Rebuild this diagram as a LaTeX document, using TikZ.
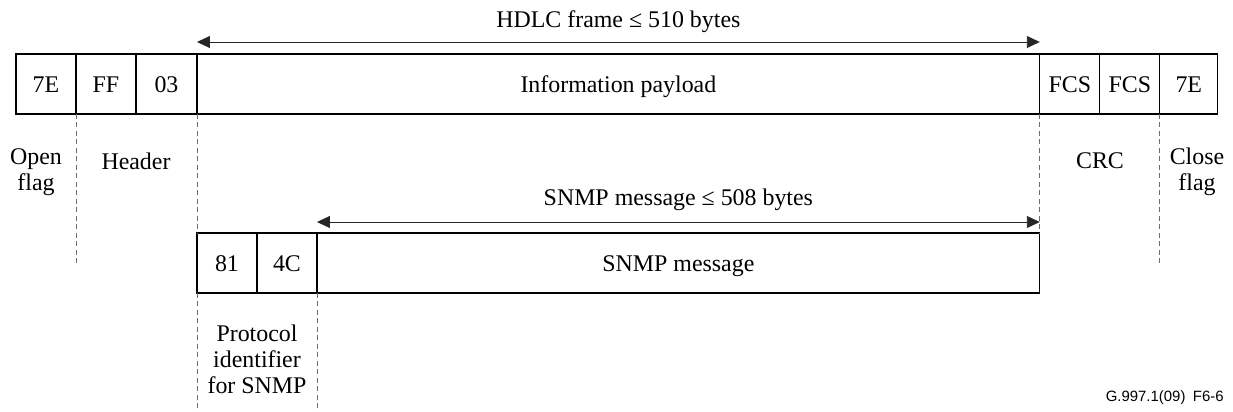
\documentclass[tikz,border=0pt]{standalone}
\usepackage{fontspec}
\setmainfont{Liberation Serif}
\newfontfamily\figsans{Liberation Sans}
\usetikzlibrary{arrows.meta,positioning}

\tikzset{
  cell/.style={draw, line width=0.7pt, minimum height=1.2cm, inner sep=0pt, outer sep=0pt,
    text height=10pt, text depth=0pt,
    anchor=north west, font=\fontsize{13.6}{14.8}\selectfont},
  guide/.style={draw=gray!85!black, line width=0.5pt, dash pattern=on 0.1cm off 0.07cm},
  span/.style={line width=0.5pt, draw=black!85,
    {Triangle[length=0.26cm,width=0.24cm]}-{Triangle[length=0.26cm,width=0.24cm]}},
  note/.style={align=center, inner sep=0pt, font=\fontsize{13.6}{14.8}\selectfont}
}

\begin{document}
\begin{tikzpicture}[x=0.02cm,y=-0.02cm]
\useasboundingbox (0,0) rectangle (1233,412);

% HDLC frame
\node[cell, minimum width=1.2cm] (open) at (16,54) {7E};
\node[cell, minimum width=1.2cm] (addr) at (open.north east) {FF};
\node[cell, minimum width=1.22cm] (ctrl) at (addr.north east) {03};
\node[cell, minimum width=16.86cm] (pay) at (ctrl.north east) {Information payload};
\node[cell, minimum width=1.2cm] (fcsa) at (pay.north east) {FCS};
\node[cell, minimum width=1.2cm] (fcsb) at (fcsa.north east) {FCS};
\node[cell, minimum width=1.16cm] (close) at (fcsb.north east) {7E};

\draw[span] ([yshift=0.24cm]pay.north west) -- ([yshift=0.24cm]pay.north east)
  node[note, midway, yshift=0.4cm] (hdlc) {HDLC frame ≤ 510 bytes};

% SNMP part
\node[cell, minimum width=1.2cm] (pida) at (pay.south west |- 0,233) {81};
\node[cell, minimum width=1.2cm] (pidb) at (pida.north east) {4C};
\node[cell, minimum width=14.46cm] (msg) at (pidb.north east) {SNMP message};

\draw[span] ([yshift=0.22cm]msg.north west) -- ([yshift=0.22cm]msg.north east)
  node[note, midway, yshift=0.44cm] (snmp) {SNMP message ≤ 508 bytes};

% guides
\draw[guide] (open.south east) -- (open.south east |- 0,265);
\draw[guide] (ctrl.south east) -- (pida.north west);
\draw[guide] (pay.south east) -- (msg.north east);
\draw[guide] (fcsb.south east) -- (fcsb.south east |- 0,265);
\draw[guide] (pida.south west) -- (pida.south west |- 0,412);
\draw[guide] (pidb.south east) -- (pidb.south east |- 0,412);

% field names
\node[note] (lopen) at (36,172) {Open\\flag};
\node[note] (lhdr) at (136,161) {Header};
\node[note] (lcrc) at (1100,161) {CRC};
\node[note] (lclose) at (1197,172) {Close\\flag};
\node[note] (lpid) at (257,359) {Protocol\\identifier\\for SNMP};

\node[anchor=east, inner sep=0pt, font=\figsans\fontsize{8.5}{10}\selectfont] (fig) at (1224,398) {G.997.1(09)\enspace F6-6};
\end{tikzpicture}
\end{document}
